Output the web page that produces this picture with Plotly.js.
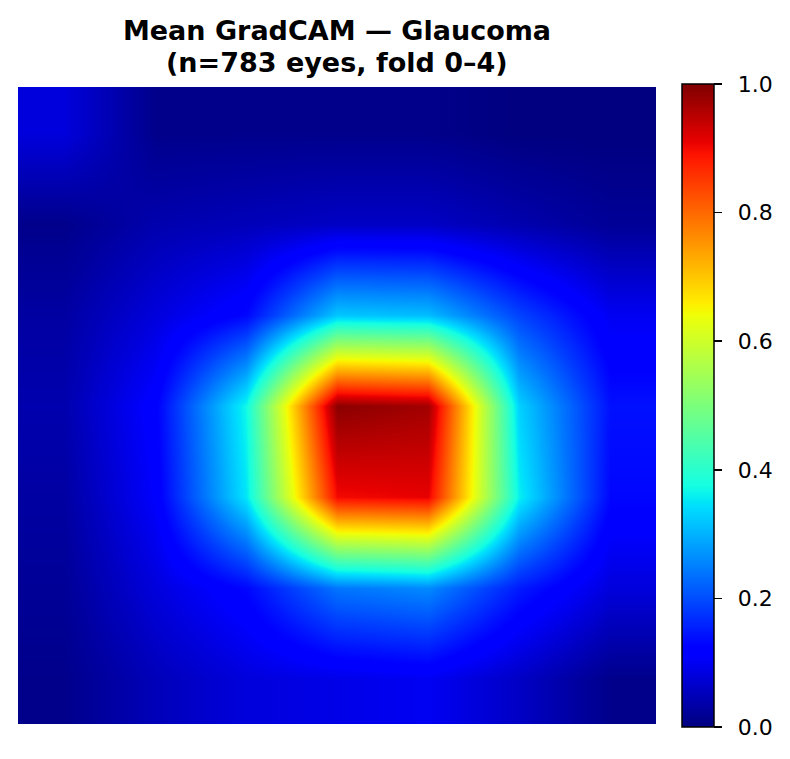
<!DOCTYPE html>
<html>
<head>
<meta charset="utf-8">
<script src="https://cdn.plot.ly/plotly-3.0.1.min.js"></script>
<style>html,body{margin:0;padding:0;background:#fff;}#chart{width:790px;height:759px;}</style>
</head>
<body>
<div id="chart"></div>
<script>
// Mean GradCAM grid (7x7, top row first)
const colIdx = [0, 1, 2, 3, 4, 5, 6];
const rowIdx = [0, 1, 2, 3, 4, 5, 6];
const row0 = [0.08, 0.01, 0.01, 0.01, 0.01, 0.00, 0.00];
const row1 = [0.01, 0.04, 0.05, 0.06, 0.06, 0.04, 0.02];
const row2 = [0.03, 0.08, 0.13, 0.32, 0.31, 0.19, 0.10];
const row3 = [0.04, 0.12, 0.37, 0.99, 0.97, 0.33, 0.14];
const row4 = [0.03, 0.11, 0.35, 0.90, 0.91, 0.36, 0.13];
const row5 = [0.02, 0.08, 0.13, 0.24, 0.26, 0.15, 0.08];
const row6 = [0.01, 0.05, 0.08, 0.09, 0.10, 0.06, 0.01];
// colorbar ticks: 0.0, 0.2, ... 1.0
const cbTickStart = 0.0;
const cbTickStep = 0.2;
const titleLine1 = 'Mean GradCAM — Glaucoma';
const titleLine2 = '(n=783 eyes, fold 0–4)';

// matplotlib "jet" colormap as a Plotly colorscale
const jetSeg = {
  r: [[0, 0], [0.35, 0], [0.66, 1], [0.89, 1], [1, 0.5]],
  g: [[0, 0], [0.125, 0], [0.375, 1], [0.64, 1], [0.91, 0], [1, 0]],
  b: [[0, 0.5], [0.11, 1], [0.34, 1], [0.65, 0], [1, 0]]
};
function segVal(seg, t) {
  for (let i = 1; i < seg.length; i++) {
    if (t <= seg[i][0]) {
      const a = seg[i - 1], b = seg[i];
      return a[1] + (b[1] - a[1]) * (t - a[0]) / (b[0] - a[0]);
    }
  }
  return seg[seg.length - 1][1];
}
const jet = [];
for (let i = 0; i <= 200; i++) {
  const t = i / 200;
  const c = ['r', 'g', 'b'].map(k => Math.round(255 * segVal(jetSeg[k], t)));
  jet.push([t, 'rgb(' + c.join(',') + ')']);
}

const z = [row0, row1, row2, row3, row4, row5, row6];
const titleFont = {family: 'DejaVu Sans', size: 27, color: '#000', weight: 'bold'};

const trace = {
  type: 'heatmap',
  x: colIdx,
  y: rowIdx,
  z: z,
  zmin: 0,
  zmax: 1,
  zsmooth: 'best',
  colorscale: jet,
  hoverinfo: 'skip',
  colorbar: {
    x: 1.0408, xanchor: 'left', xref: 'paper',
    y: 0.5, yanchor: 'middle', yref: 'paper',
    lenmode: 'pixels', len: 643,
    thickness: 32, thicknessmode: 'pixels',
    xpad: 0, ypad: 0,
    outlinewidth: 1.5, outlinecolor: '#000',
    ticks: 'outside', ticklen: 8, tickwidth: 1.5, tickcolor: '#000',
    tickmode: 'linear', tick0: cbTickStart, dtick: cbTickStep,
    tickformat: '.1f', tickprefix: '\u2002',
    tickfont: {family: 'DejaVu Sans', size: 22, color: '#000'}
  }
};

const layout = {
  width: 790,
  height: 759,
  margin: {l: 18, r: 134, t: 87, b: 35},
  paper_bgcolor: '#fff',
  plot_bgcolor: '#fff',
  title: {
    text: titleLine1,
    font: titleFont,
    x: 0.5, xref: 'paper', xanchor: 'center',
    y: 1 - 31 / 759, yref: 'container', yanchor: 'middle'
  },
  annotations: [{
    text: titleLine2,
    font: titleFont,
    xref: 'paper', yref: 'paper',
    x: 0.5, y: 1, xanchor: 'center', yanchor: 'middle',
    yshift: 25, showarrow: false
  }],
  xaxis: {visible: false, range: [-0.5, 6.5], showgrid: false, zeroline: false, fixedrange: true},
  yaxis: {visible: false, range: [6.5, -0.5], showgrid: false, zeroline: false, fixedrange: true},
  showlegend: false
};

Plotly.newPlot('chart', [trace], layout, {displayModeBar: false, staticPlot: true});
</script>
</body>
</html>
